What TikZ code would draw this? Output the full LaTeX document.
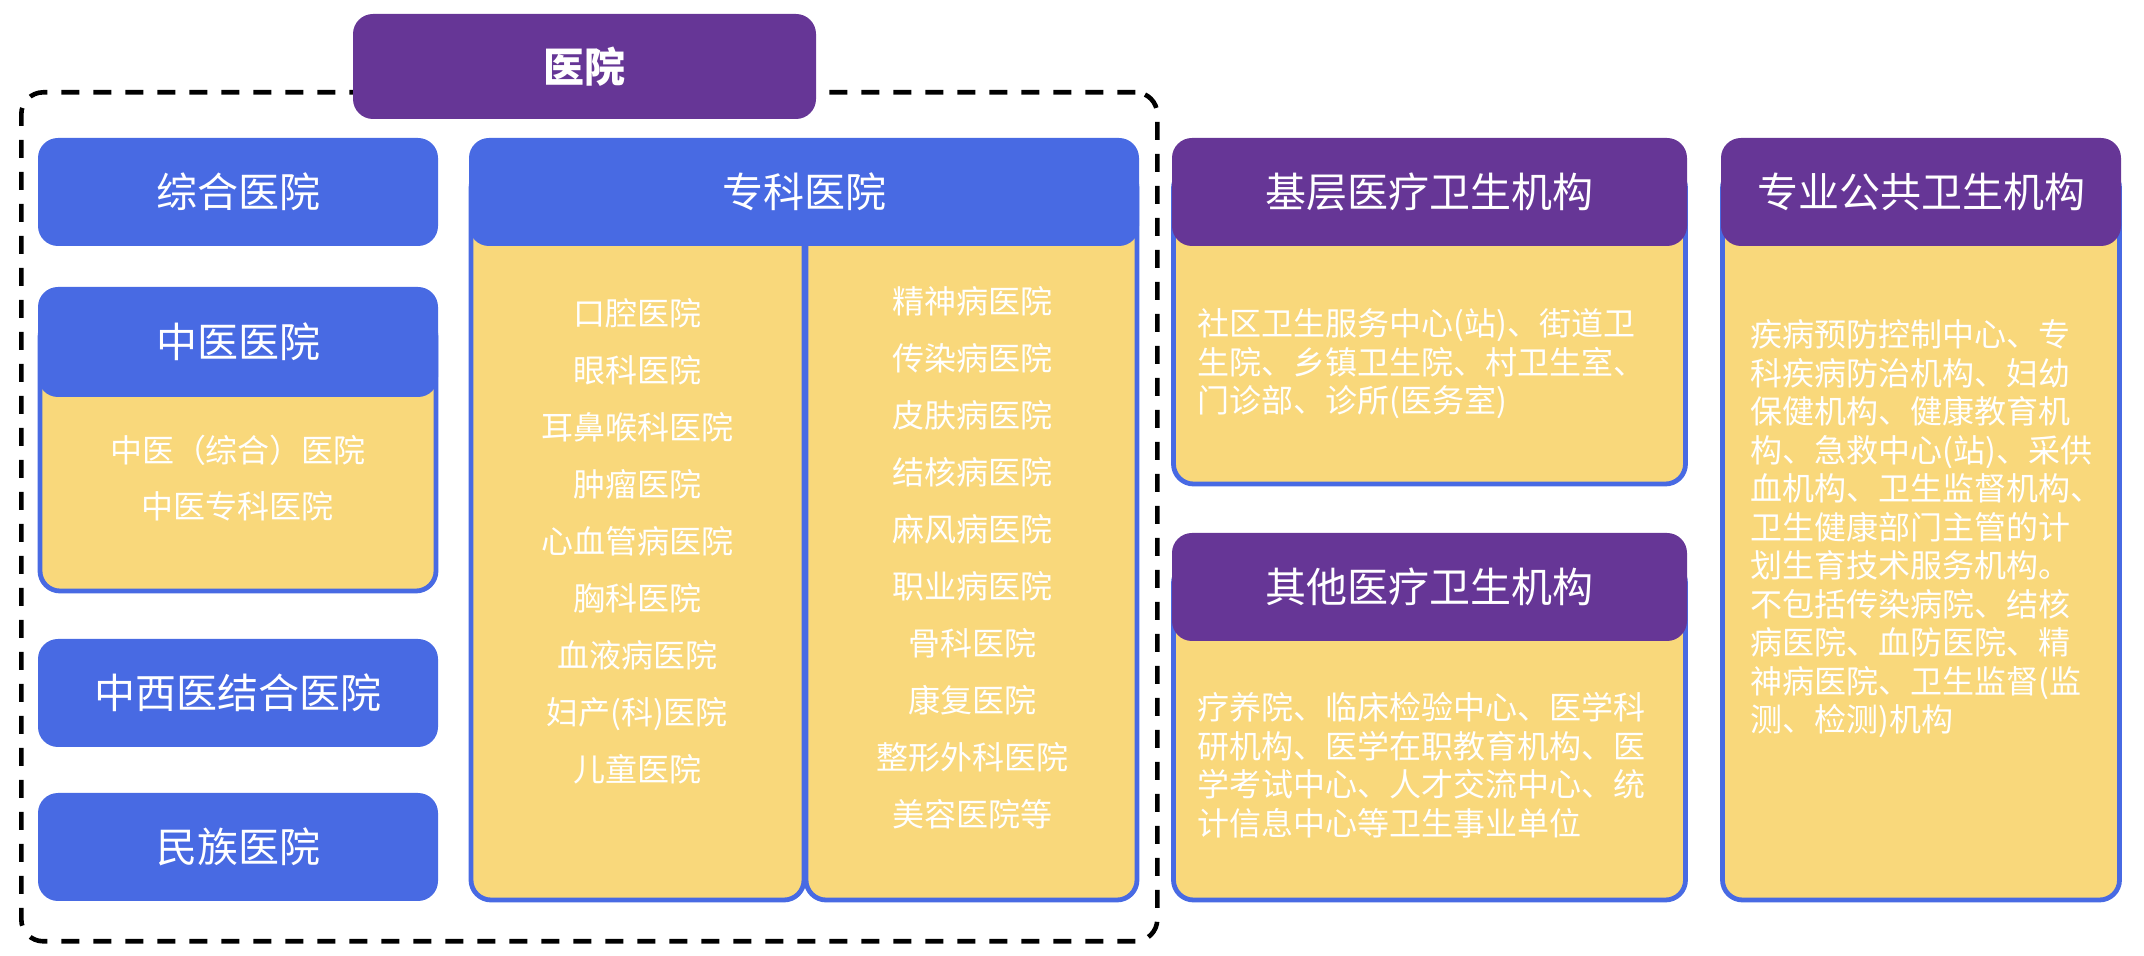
\documentclass[tikz,border=0pt]{standalone}
\usepackage{fontspec}
\newfontfamily\cjk{Noto Sans CJK SC}
\usepackage{tikz}
\usetikzlibrary{positioning}
\definecolor{hblue}{RGB}{72,106,227}
\definecolor{hpurple}{RGB}{102,54,150}
\definecolor{hyellow}{RGB}{249,216,123}

\begin{document}
\begin{tikzpicture}[x=0.5pt, y=-0.5pt,
  head/.style={anchor=north west, inner sep=0pt, outer sep=0pt, rounded corners=10pt, text=white, minimum height=54pt, font=\cjk\fontsize{20.5pt}{24pt}\selectfont},
  bluehead/.style={head, fill=hblue},
  purplehead/.style={head, fill=hpurple},
  panel/.style={anchor=north west, inner sep=0pt, outer sep=0pt, rounded corners=10pt, fill=hyellow, draw=hblue, line width=2.4pt},
  frame/.style={draw, dashed, dash pattern=on 9pt off 7pt, line width=2.3pt, rounded corners=11pt, anchor=north west, inner sep=0pt},
  items/.style={text=white, align=center, inner sep=0pt, font=\cjk\fontsize{16pt}{28.5pt}\selectfont},
  para/.style={text=white, align=left, anchor=west, inner sep=0pt, font=\cjk\fontsize{16pt}{19.25pt}\selectfont}]
\useasboundingbox (0,0) rectangle (2144,956);

% hospitals
\node[frame, minimum width=568pt, minimum height=424.5pt] (hosp) at (19,90) {};
\node[purplehead, minimum width=231.5pt, minimum height=52.5pt, font=\cjk\bfseries\fontsize{20.5pt}{24pt}\selectfont] (title) at (353,14) {医院};

\node[bluehead, minimum width=200pt] (zonghe) at (38,138) {综合医院};
\node[panel, minimum width=198pt, minimum height=137pt] (zybody) at (40,317) {};
\node[bluehead, minimum width=200pt, minimum height=55pt] (zhongyi) at (38,287) {中医医院};
\node[items, font=\cjk\fontsize{16pt}{28pt}\selectfont] (zyitems) at (238,478) {中医（综合）医院\\中医专科医院};
\node[bluehead, minimum width=200pt] (zxy) at (38,639) {中西医结合医院};
\node[bluehead, minimum width=200pt] (minzu) at (38,793) {民族医院};

\node[panel, minimum width=166.5pt, minimum height=366pt] (zkleft) at (471,168) {};
\node[panel, minimum width=165.5pt, minimum height=366pt] (zkright) at (806,168) {};
\node[bluehead, minimum width=335pt] (zhuanke) at (469,138) {专科医院};
\node[items] (leftitems) at (637,541) {口腔医院\\眼科医院\\耳鼻喉科医院\\肿瘤医院\\心血管病医院\\胸科医院\\血液病医院\\妇产(科)医院\\儿童医院};
\node[items] (rightitems) at (972,558) {精神病医院\\传染病医院\\皮肤病医院\\结核病医院\\麻风病医院\\职业病医院\\骨科医院\\康复医院\\整形外科医院\\美容医院等};

% other institutions
\node[panel, minimum width=256pt, minimum height=158pt] (jcbody) at (1173.5,168) {};
\node[purplehead, minimum width=257.5pt] (jiceng) at (1172,138) {基层医疗卫生机构};
\node[para] (jctext) at (1197,364) {社区卫生服务中心(站)、街道卫\\生院、乡镇卫生院、村卫生室、\\门诊部、诊所(医务室)};

\node[panel, minimum width=256pt, minimum height=168.5pt] (qtbody) at (1173.5,563) {};
\node[purplehead, minimum width=257.5pt] (qita) at (1172,533) {其他医疗卫生机构};
\node[para] (qttext) at (1197,765) {疗养院、临床检验中心、医学科\\研机构、医学在职教育机构、医\\学考试中心、人才交流中心、统\\计信息中心等卫生事业单位};

\node[panel, minimum width=198.5pt, minimum height=366pt] (ggbody) at (1722.5,168) {};
\node[purplehead, minimum width=200pt] (gonggong) at (1721,138) {专业公共卫生机构};
\node[para] (ggtext) at (1750,529) {疾病预防控制中心、专\\科疾病防治机构、妇幼\\保健机构、健康教育机\\构、急救中心(站)、采供\\血机构、卫生监督机构、\\卫生健康部门主管的计\\划生育技术服务机构。\\不包括传染病院、结核\\病医院、血防医院、精\\神病医院、卫生监督(监\\测、检测)机构};
\end{tikzpicture}
\end{document}
